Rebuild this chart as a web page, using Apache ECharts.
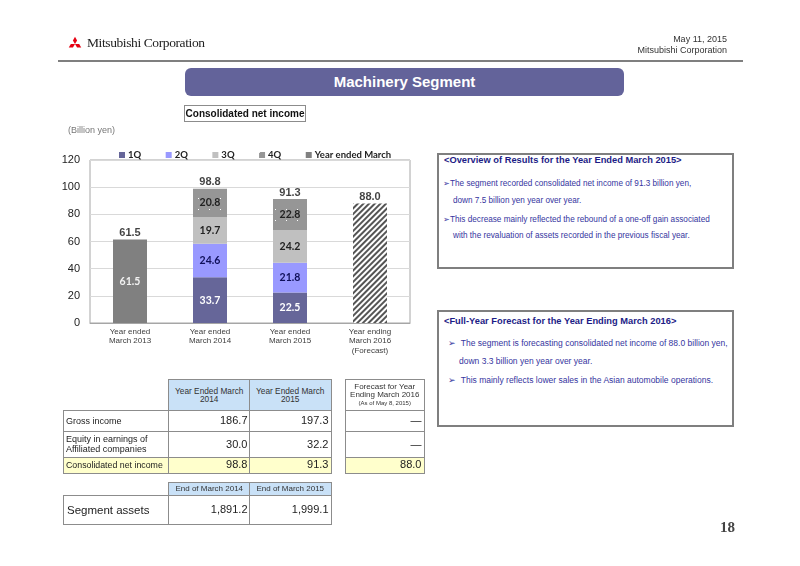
<!DOCTYPE html>
<html><head><meta charset="utf-8">
<script src="https://cdn.jsdelivr.net/npm/echarts@6/dist/echarts.min.js"></script>
<style>
body{margin:0;background:#fff;font-family:Arial,"Liberation Sans",sans-serif;}
#wrap{position:relative;width:800px;height:566px;overflow:hidden;background:#fff;}
#chart{position:absolute;left:0;top:0;width:800px;height:566px;}
.abs{position:absolute;white-space:nowrap;}
.cell{position:absolute;box-sizing:border-box;border:1.5px solid #8c8c8c;display:flex;align-items:center;overflow:hidden;white-space:nowrap;}
.box{position:absolute;box-sizing:border-box;border:2px solid #7f7f7f;background:#fff;}
.bt{position:absolute;white-space:nowrap;color:#1c1c86;font-weight:bold;font-size:9.3px;}
.bl{position:absolute;white-space:nowrap;color:#3535a0;font-size:8.2px;}
.bl2{position:absolute;white-space:nowrap;color:#3535a0;font-size:8.5px;}
</style></head>
<body><div id="wrap">
<div id="chart"></div>
</div>
<script>
// ---- chart data ----
const categories = ['Year ended\nMarch 2013','Year ended\nMarch 2014','Year ended\nMarch 2015','Year ending\nMarch 2016\n(Forecast)'];
const q1 = [null, 33.7, 22.5, null];
const q2 = [null, 24.6, 21.8, null];
const q3 = [null, 19.7, 24.2, null];
const q4 = [null, 20.8, 22.8, null];
const yearEnded = [61.5, null, null, null];
const forecast = [null, null, null, 88.0];
const totals = [61.5, 98.8, 91.3, 88.0];
const yTicks = [0, 20, 40, 60, 80, 100, 120];

// ---- table data ----
const tblCols = ['Year Ended March\n2014', 'Year  Ended March\n2015'];
const tblRows = ['Gross income', 'Equity in earnings of\nAffiliated companies', 'Consolidated net income'];
const tblFY2014 = ['186.7', '30.0', '98.8'];
const tblFY2015 = ['197.3', '32.2', '91.3'];
const tblForecast = ['—', '—', '88.0'];
const assetCols = ['End of March 2014', 'End of March 2015'];
const assetVals = ['1,891.2', '1,999.1'];

const wrap = document.getElementById('wrap');
function add(html){ wrap.insertAdjacentHTML('beforeend', html); }

// header
add('<svg class="abs" style="left:68px;top:36px" width="14" height="13" viewBox="-7 -8 14 13">' +
  [0,120,240].map(a=>'<polygon points="0,0 2.1,-3.6 0,-7.2 -2.1,-3.6" fill="#e60012" transform="rotate('+a+')"/>').join('') + '</svg>');
add('<div class="abs" style="left:87px;top:35px;font-family:\'Liberation Serif\',serif;font-size:13.5px;color:#222;letter-spacing:-0.4px">Mitsubishi Corporation</div>');
add('<div class="abs" style="right:73px;top:34px;font-size:9px;color:#333;text-align:right">May 11, 2015</div>');
add('<div class="abs" style="right:73px;top:45px;font-size:9px;color:#333;text-align:right">Mitsubishi Corporation</div>');
add('<div class="abs" style="left:58px;top:60px;width:685px;height:2px;background:#7f7f7f"></div>');
add('<div class="abs" style="left:185px;top:68px;width:439px;height:28px;background:#63639a;border-radius:6px;color:#fff;font-weight:bold;font-size:15px;line-height:28px;text-align:center">Machinery Segment</div>');
add('<div class="abs" style="left:184px;top:105px;width:122px;height:17px;box-sizing:border-box;border:1px solid #8c8c8c;font-weight:bold;font-size:10px;line-height:15px;text-align:center;color:#111">Consolidated net income</div>');
add('<div class="abs" style="left:68px;top:125px;font-size:9px;color:#777">(Billion yen)</div>');

// right boxes
add('<div class="box" style="left:437px;top:153px;width:297px;height:116px"></div>');
add('<div class="bt" style="left:444px;top:155px">&lt;Overview of Results for the Year Ended March 2015&gt;</div>');
add('<div class="bl" style="left:443px;top:178px">➢The segment recorded consolidated net income of 91.3 billion yen,</div>');
add('<div class="bl" style="left:453px;top:196px">down 7.5 billion yen year over year.</div>');
add('<div class="bl" style="left:443px;top:214px">➢This decrease mainly reflected the rebound of a one-off gain associated</div>');
add('<div class="bl" style="left:453px;top:231px">with the revaluation of assets recorded in the previous fiscal year.</div>');
add('<div class="box" style="left:437px;top:310px;width:297px;height:117px"></div>');
add('<div class="bt" style="left:444px;top:316px">&lt;Full-Year Forecast for the Year Ending March 2016&gt;</div>');
add('<div class="bl2" style="left:448px;top:338px">➢&nbsp;&nbsp;The segment is forecasting consolidated net income of 88.0 billion yen,</div>');
add('<div class="bl2" style="left:459px;top:356px">down 3.3 billion yen year over year.</div>');
add('<div class="bl2" style="left:448px;top:375px">➢&nbsp;&nbsp;This mainly reflects lower sales in the Asian automobile operations.</div>');

// tables
function cell(x1,y1,x2,y2,txt,opt){
  opt = opt||{};
  add('<div class="cell" style="left:'+x1+'px;top:'+y1+'px;width:'+(x2-x1+1.5)+'px;height:'+(y2-y1+1.5)+'px;background:'+(opt.bg||'#fff')+
    ';justify-content:'+(opt.align||'flex-start')+';font-size:'+(opt.fs||9)+'px;color:'+(opt.color||'#222')+';padding:0 '+(opt.pad||3)+'px;line-height:'+(opt.lh||1.05)+';text-align:'+(opt.ta||'left')+'"><div>'+txt.replace(/\n/g,'<br>')+'</div></div>');
}
const cx = [63,168,249,330], ry = [379,410,431,457,472];
const hdrBg = '#c9e1f7', yel = '#ffffcc';
for (let j=0;j<2;j++) cell(cx[j+1], ry[0], cx[j+2], ry[1], tblCols[j], {bg:hdrBg, align:'center', ta:'center', fs:8.3, color:'#333'});
cell(345, ry[0], 423, ry[1], 'Forecast  for Year<br>Ending March 2016<br><span style="font-size:6px">(As of  May 8, 2015)</span>', {align:'center', ta:'center', fs:8, color:'#333'});
for (let i=0;i<3;i++){
  const bg = i===2 ? yel : '#fff';
  cell(cx[0], ry[i+1], cx[1], ry[i+2], tblRows[i], {bg:bg, fs:(i===2?8.8:9), pad:2});
  cell(cx[1], ry[i+1], cx[2], ry[i+2], tblFY2014[i], {bg:bg, align:'flex-end', fs:11, pad:2});
  cell(cx[2], ry[i+1], cx[3], ry[i+2], tblFY2015[i], {bg:bg, align:'flex-end', fs:11, pad:2});
  cell(345, ry[i+1], 423, ry[i+2], tblForecast[i], {bg:bg, align:'flex-end', fs:11, pad:2});
}
const ay = [482,495,523];
for (let j=0;j<2;j++) cell(cx[j+1], ay[0], cx[j+2], ay[1], assetCols[j], {bg:hdrBg, align:'center', ta:'center', fs:8, color:'#333'});
cell(cx[0], ay[1], cx[1], ay[2], 'Segment assets', {fs:11.5});
for (let j=0;j<2;j++) cell(cx[j+1], ay[1], cx[j+2], ay[2], assetVals[j], {align:'flex-end', fs:11, pad:2});
add('<div class="abs" style="left:720px;top:519px;font-family:\'Liberation Serif\',serif;font-weight:bold;font-size:15px;color:#444">18</div>');

// ---- chart ----
const chart = echarts.init(document.getElementById('chart'), null, {renderer:'canvas'});
const fmt = p => (p.value == null ? '' : Number(p.value).toFixed(1));
const lblFont = {fontFamily:'Lato, "Liberation Sans", sans-serif', fontWeight:'bold', fontSize:10.5};
function barSeries(name, data, color, labelColor, extra){
  return Object.assign({
    name, type:'bar', stack:'total', data, barWidth:34,
    itemStyle:{color},
    label:Object.assign({show:true, position:'inside', color:labelColor, formatter:fmt}, lblFont),
    emphasis:{disabled:true}
  }, extra||{});
}
chart.setOption({
  animation:false,
  backgroundColor:'transparent',
  legend:{
    data:['1Q','2Q','3Q','4Q','Year ended March'],
    left:114, top:145, itemWidth:6, itemHeight:6, itemGap:24.5, icon:'rect',
    textStyle:{fontFamily:'Lato, "Liberation Sans", sans-serif', fontWeight:'bold', fontSize:9.5, color:'#222', padding:[0,0,0,-2]}
  },
  grid:{left:90, right:390, top:160, bottom:243, show:true, borderColor:'#a6a6a6', borderWidth:1},
  xAxis:{
    type:'category', data:categories,
    axisLine:{lineStyle:{color:'#a6a6a6'}}, axisTick:{show:false},
    axisLabel:{interval:0, fontSize:8, color:'#404040', lineHeight:9.5, margin:4, fontFamily:'Arial, "Liberation Sans", sans-serif'}
  },
  yAxis:{
    type:'value', min:yTicks[0], max:yTicks[yTicks.length-1], interval:20,
    axisLine:{show:false}, axisTick:{show:false},
    axisLabel:{fontSize:11, color:'#222', margin:10, fontFamily:'Arial, "Liberation Sans", sans-serif'},
    splitLine:{lineStyle:{color:'#d9d9d9'}}
  },
  series:[
    barSeries('1Q', q1, '#666699', '#ffffff'),
    barSeries('2Q', q2, '#9999ff', '#10105a'),
    barSeries('3Q', q3, '#c0c0c0', '#222'),
    barSeries('4Q', q4, '#969696', '#222', {itemStyle:{color:'#969696', decal:{symbol:'rect', symbolSize:1, dashArrayX:[1,10], dashArrayY:[1,10], color:'#ffffff'}}}),
    barSeries('Year ended March', yearEnded, '#808080', '#f2f2f2'),
    {name:'Forecast', type:'bar', stack:'total', data:forecast, barWidth:34,
     itemStyle:{color:'#ffffff', decal:{symbol:'rect', dashArrayX:[1,0], dashArrayY:[1.2,1.6], rotation:-Math.PI/4, color:'#555555'}},
     label:{show:false}, emphasis:{disabled:true}},
    {name:'Total', type:'scatter', data:totals, symbolSize:0, silent:true,
     label:{show:true, position:'top', distance:1, color:'#111', fontWeight:'bold', fontSize:11, fontFamily:'Arial, "Liberation Sans", sans-serif', formatter:fmt}}
  ]
});
</script>
</body></html>
